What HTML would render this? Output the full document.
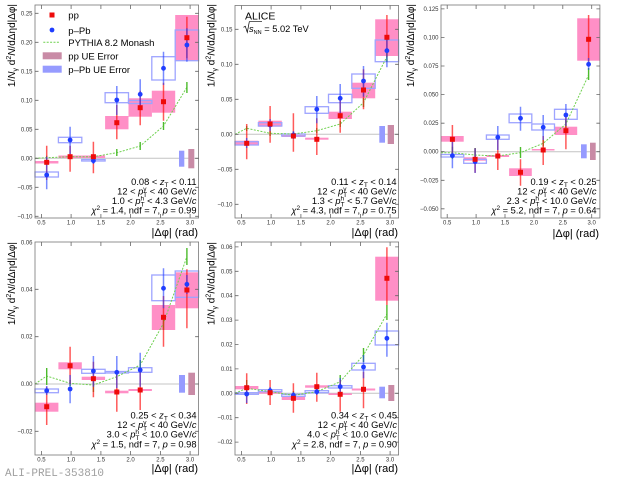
<!DOCTYPE html>
<html><head><meta charset="utf-8"><style>
html,body{margin:0;padding:0;background:#fff;}
svg{display:block;font-family:"Liberation Sans",sans-serif;}
.fr{fill:none;stroke:#777;stroke-width:0.8}
.tk{fill:none;stroke:#666;stroke-width:0.8}
.zl{stroke:#c4c4c4;stroke-width:1}
.tl{font-size:6px;fill:#333}
.tly{font-size:6px;fill:#333;text-anchor:end}
.tlx{font-size:6px;fill:#333;text-anchor:middle}
.bp{fill:#ff8fc6}
.bb{fill:none;stroke:#9ea4ff;stroke-width:1.3}
.ue1{fill:#969bff}
.ue2{fill:#c98ba6}
.py{fill:none;stroke:#6fd14f;stroke-width:1;stroke-dasharray:2 1.4}
.gb{fill:none;stroke:#4cbb2c;stroke-width:1.4}
.er{fill:none;stroke:rgba(255,20,20,0.7);stroke-width:1.5}
.eb{fill:none;stroke:rgba(30,60,255,0.6);stroke-width:1.5}
.mr{fill:#ee0a0a}
.mb{fill:#1f3dff}
.tb{font-size:9.3px;text-anchor:end;fill:#000}
.xt{font-size:11px;text-anchor:end;fill:#000}
.yt{font-size:10px;text-anchor:end;fill:#000}
.lg{font-size:9.5px;fill:#000}
</style></head><body>
<svg width="620" height="481" viewBox="0 0 620 481" xmlns="http://www.w3.org/2000/svg">
<rect width="620" height="481" fill="#fff"/>

<!-- ================= PANEL 1 ================= -->
<g>
<line class="zl" x1="35" y1="158.3" x2="198.6" y2="158.3"/>
<rect class="bp" x="35" y="161" width="23.4" height="2.5"/>
<rect class="bp" x="58.4" y="155.5" width="23.4" height="2.5"/>
<rect class="bp" x="81.7" y="155.5" width="23.4" height="2.5"/>
<rect class="bp" x="105.1" y="116" width="23.4" height="13.3"/>
<rect class="bp" x="128.5" y="98.3" width="23.4" height="18.4"/>
<rect class="bp" x="151.8" y="90.7" width="23.4" height="22"/>
<rect class="bp" x="175.2" y="15" width="23.4" height="45.7"/>
<rect class="bb" x="35" y="172" width="23.4" height="5"/>
<rect class="bb" x="58.4" y="137.3" width="23.4" height="5.4"/>
<rect class="bb" x="81.7" y="159.5" width="23.4" height="1.5"/>
<rect class="bb" x="105.1" y="92.7" width="23.4" height="10"/>
<rect class="bb" x="128.5" y="100.5" width="23.4" height="3"/>
<rect class="bb" x="151.8" y="56.7" width="23.4" height="23.3"/>
<rect class="bb" x="175.2" y="30" width="23.4" height="30.7"/>
<rect class="ue1" x="179" y="150.7" width="5.3" height="16"/>
<rect class="ue2" x="188.3" y="149" width="6" height="19.3"/>
<polyline class="py" points="35,158.3 46.7,157.7 70.1,156.7 93.4,156.7 116.8,152.7 140.2,146 163.5,126 186.9,87.3"/>
<path class="gb" d="M46.7,155.7V159.7M70.1,154.7V158.7M93.4,154.7V158.7M116.8,149V156M140.2,142V150M163.5,122V130M186.9,82V93"/>
<path class="er" d="M46.7,145.7V180M70.1,145.7V171.7M93.4,141.7V173.3M116.8,105V139.3M140.2,90.7V125.3M163.5,82.7V120.7M186.9,16.7V58.3"/>
<path class="eb" d="M46.7,156.7V189.3M70.1,126.7V154M93.4,157V164M116.8,86V115M140.2,79.3V109.3M163.5,51.7V85M186.9,28.3V61.7"/>
<circle class="mb" cx="46.7" cy="175" r="2.4"/><circle class="mb" cx="70.1" cy="140" r="2.4"/><circle class="mb" cx="93.4" cy="160.7" r="2.4"/><circle class="mb" cx="116.8" cy="100" r="2.4"/><circle class="mb" cx="140.2" cy="94.3" r="2.4"/><circle class="mb" cx="163.5" cy="68.3" r="2.4"/><circle class="mb" cx="186.9" cy="45" r="2.4"/>
<rect class="mr" x="44.2" y="159.8" width="5" height="5"/><rect class="mr" x="67.6" y="154.2" width="5" height="5"/><rect class="mr" x="90.9" y="154.2" width="5" height="5"/><rect class="mr" x="114.3" y="120.2" width="5" height="5"/><rect class="mr" x="137.7" y="105.2" width="5" height="5"/><rect class="mr" x="161" y="99.2" width="5" height="5"/><rect class="mr" x="184.4" y="35.2" width="5" height="5"/>
<rect class="fr" x="35" y="5" width="163.6" height="213"/>
<path class="tk" d="M41.4,218v-4M71.1,218v-4M100.9,218v-4M130.6,218v-4M160.4,218v-4M190.1,218v-4M41.4,5v4M71.1,5v4M100.9,5v4M130.6,5v4M160.4,5v4M190.1,5v4M35,13.3h3.5M35,42.3h3.5M35,71.3h3.5M35,100.3h3.5M35,129.3h3.5M35,158.3h3.5M35,187.3h3.5M35,216.3h3.5M198.6,13.3h-3.5M198.6,42.3h-3.5M198.6,71.3h-3.5M198.6,100.3h-3.5M198.6,129.3h-3.5M198.6,158.3h-3.5M198.6,187.3h-3.5M198.6,216.3h-3.5"/>
<text class="tly" x="32.5" y="15.3">0.25</text><text class="tly" x="32.5" y="44.3">0.20</text><text class="tly" x="32.5" y="73.3">0.15</text><text class="tly" x="32.5" y="102.3">0.10</text><text class="tly" x="32.5" y="131.3">0.05</text><text class="tly" x="32.5" y="160.3">0.00</text><text class="tly" x="32.5" y="189.3">−0.05</text><text class="tly" x="32.5" y="218.3">−0.10</text>
<text class="tlx" x="41.4" y="224.5">0.5</text><text class="tlx" x="71.1" y="224.5">1.0</text><text class="tlx" x="100.9" y="224.5">1.5</text><text class="tlx" x="130.6" y="224.5">2.0</text><text class="tlx" x="160.4" y="224.5">2.5</text><text class="tlx" x="190.1" y="224.5">3.0</text>
<text class="xt" x="198" y="236">|Δφ| (rad)</text>
<text class="yt" transform="translate(15,4) rotate(-90)">1/<tspan font-style="italic">N</tspan><tspan font-size="7" dy="2.5">γ</tspan><tspan dy="-2.5"> d</tspan><tspan font-size="7" dy="-4">2</tspan><tspan dy="4" font-style="italic">N</tspan>/dΔηd|Δφ|</text>
<text class="tb" x="196.5" y="185">0.08 &lt; <tspan font-style="italic">z</tspan><tspan font-size="6.5" dy="2">T</tspan><tspan dy="-2"> &lt; 0.11</tspan></text>
<text class="tb" x="196.5" y="194.5">12 &lt; <tspan font-style="italic">p</tspan><tspan font-size="6.5" dy="-3.5">γ</tspan><tspan font-size="6.5" dx="-3.4" dy="6">T</tspan><tspan dy="-2.5"> &lt; 40 GeV/</tspan><tspan font-style="italic">c</tspan></text>
<text class="tb" x="196.5" y="204">1.0 &lt; <tspan font-style="italic">p</tspan><tspan font-size="6.5" dy="-3.5">h</tspan><tspan font-size="6.5" dx="-3.6" dy="6">T</tspan><tspan dy="-2.5"> &lt; 4.3 GeV/</tspan><tspan font-style="italic">c</tspan></text>
<text class="tb" x="196.5" y="213.5"><tspan font-style="italic">χ</tspan><tspan font-size="6.5" dy="-3.5">2</tspan><tspan dy="3.5"> = 1.4, ndf = 7, </tspan><tspan font-style="italic">p</tspan> = 0.99</text>
<!-- legend -->
<rect class="mr" x="49.5" y="12.5" width="5" height="5"/>
<text class="lg" x="68.3" y="18.5">pp</text>
<circle class="mb" cx="52" cy="30" r="2.4"/>
<text class="lg" x="68.3" y="33.8">p–Pb</text>
<line class="py" x1="43.3" y1="42.3" x2="59" y2="42.3"/>
<text class="lg" x="68.3" y="46">PYTHIA 8.2 Monash</text>
<rect class="ue2" x="42.7" y="52.3" width="19" height="7"/>
<text class="lg" x="68.3" y="59.6">pp UE Error</text>
<rect class="ue1" x="42.7" y="65.7" width="19" height="7"/>
<text class="lg" x="68.3" y="73">p–Pb UE Error</text>
</g>

<!-- ================= PANEL 2 ================= -->
<g>
<line class="zl" x1="235" y1="134.3" x2="398.6" y2="134.3"/>
<rect class="bp" x="235" y="140.7" width="23.4" height="4.3"/>
<rect class="bp" x="258.4" y="120.7" width="23.4" height="6"/>
<rect class="bp" x="281.7" y="135" width="23.4" height="2"/>
<rect class="bp" x="305.1" y="137.7" width="23.4" height="2"/>
<rect class="bp" x="328.5" y="111.7" width="23.4" height="7.3"/>
<rect class="bp" x="351.8" y="82.7" width="23.4" height="15.6"/>
<rect class="bp" x="375.2" y="19.3" width="23.4" height="36.7"/>
<rect class="bb" x="235" y="141.7" width="23.4" height="3.3"/>
<rect class="bb" x="258.4" y="122.7" width="23.4" height="3.3"/>
<rect class="bb" x="281.7" y="134" width="23.4" height="2"/>
<rect class="bb" x="305.1" y="106.7" width="23.4" height="6.6"/>
<rect class="bb" x="328.5" y="94.3" width="23.4" height="8.4"/>
<rect class="bb" x="351.8" y="74" width="23.4" height="14.3"/>
<rect class="bb" x="375.2" y="40" width="23.4" height="21.7"/>
<rect class="ue1" x="379.3" y="126" width="5.7" height="16.7"/>
<rect class="ue2" x="387.7" y="125" width="6.3" height="19"/>
<polyline class="py" points="235,134.3 246.7,128.3 270.1,133.3 293.4,134 316.8,130.7 340.2,124 363.5,102.7 386.9,56.7"/>
<path class="gb" d="M246.7,126V131M270.1,131V136M293.4,132V136M316.8,128V133M340.2,121V127M363.5,98V107M386.9,51.7V61.7"/>
<path class="er" d="M246.7,124V159.3M270.1,106V142.7M293.4,113.3V151.7M316.8,118.3V155M340.2,96.7V132.7M363.5,69.3V109.3M386.9,15V56.7"/>
<path class="eb" d="M246.7,138V148M270.1,119V131M293.4,131V139M316.8,96V123.3M340.2,84V113.3M363.5,66V96.7M386.9,36.7V67.3"/>
<circle class="mb" cx="246.7" cy="143.3" r="2.4"/><circle class="mb" cx="270.1" cy="125" r="2.4"/><circle class="mb" cx="293.4" cy="135" r="2.4"/><circle class="mb" cx="316.8" cy="109.3" r="2.4"/><circle class="mb" cx="340.2" cy="98.3" r="2.4"/><circle class="mb" cx="363.5" cy="81" r="2.4"/><circle class="mb" cx="386.9" cy="50.7" r="2.4"/>
<rect class="mr" x="244.2" y="140.8" width="5" height="5"/><rect class="mr" x="267.6" y="121.5" width="5" height="5"/><rect class="mr" x="290.9" y="133.5" width="5" height="5"/><rect class="mr" x="314.3" y="136.8" width="5" height="5"/><rect class="mr" x="337.7" y="113.2" width="5" height="5"/><rect class="mr" x="361" y="87.5" width="5" height="5"/><rect class="mr" x="384.4" y="34.8" width="5" height="5"/>
<rect class="fr" x="235" y="5.5" width="163.6" height="212.5"/>
<path class="tk" d="M241.4,218v-4M271.1,218v-4M300.9,218v-4M330.6,218v-4M360.4,218v-4M390.1,218v-4M241.4,5.5v4M271.1,5.5v4M300.9,5.5v4M330.6,5.5v4M360.4,5.5v4M390.1,5.5v4M235,29.3h3.5M235,64.3h3.5M235,99.3h3.5M235,134.3h3.5M235,169.3h3.5M235,204.3h3.5M398.6,29.3h-3.5M398.6,64.3h-3.5M398.6,99.3h-3.5M398.6,134.3h-3.5M398.6,169.3h-3.5M398.6,204.3h-3.5"/>
<text class="tly" x="232.5" y="31.3">0.15</text><text class="tly" x="232.5" y="66.3">0.10</text><text class="tly" x="232.5" y="101.3">0.05</text><text class="tly" x="232.5" y="136.3">0.00</text><text class="tly" x="232.5" y="171.3">−0.05</text><text class="tly" x="232.5" y="206.3">−0.10</text>
<text class="tlx" x="241.4" y="224.5">0.5</text><text class="tlx" x="271.1" y="224.5">1.0</text><text class="tlx" x="300.9" y="224.5">1.5</text><text class="tlx" x="330.6" y="224.5">2.0</text><text class="tlx" x="360.4" y="224.5">2.5</text><text class="tlx" x="390.1" y="224.5">3.0</text>
<text class="xt" x="398" y="236">|Δφ| (rad)</text>
<text class="yt" transform="translate(214.5,4) rotate(-90)">1/<tspan font-style="italic">N</tspan><tspan font-size="7" dy="2.5">γ</tspan><tspan dy="-2.5"> d</tspan><tspan font-size="7" dy="-4">2</tspan><tspan dy="4" font-style="italic">N</tspan>/dΔηd|Δφ|</text>
<text x="245" y="19.7" font-size="10.5">ALICE</text>
<path d="M243.5,27.3L245.3,26.3L247.3,32.3L249.3,21.7L262,21.7" fill="none" stroke="#000" stroke-width="0.7"/>
<text x="249" y="32" font-size="9.3"><tspan font-style="italic">s</tspan><tspan font-size="5.5" dy="1.8">NN</tspan><tspan dy="-1.8"> = 5.02 TeV</tspan></text>
<text class="tb" x="396.5" y="185">0.11 &lt; <tspan font-style="italic">z</tspan><tspan font-size="6.5" dy="2">T</tspan><tspan dy="-2"> &lt; 0.14</tspan></text>
<text class="tb" x="396.5" y="194.5">12 &lt; <tspan font-style="italic">p</tspan><tspan font-size="6.5" dy="-3.5">γ</tspan><tspan font-size="6.5" dx="-3.4" dy="6">T</tspan><tspan dy="-2.5"> &lt; 40 GeV/</tspan><tspan font-style="italic">c</tspan></text>
<text class="tb" x="396.5" y="204">1.3 &lt; <tspan font-style="italic">p</tspan><tspan font-size="6.5" dy="-3.5">h</tspan><tspan font-size="6.5" dx="-3.6" dy="6">T</tspan><tspan dy="-2.5"> &lt; 5.7 GeV/</tspan><tspan font-style="italic">c</tspan></text>
<text class="tb" x="396.5" y="213.5"><tspan font-style="italic">χ</tspan><tspan font-size="6.5" dy="-3.5">2</tspan><tspan dy="3.5"> = 4.3, ndf = 7, </tspan><tspan font-style="italic">p</tspan> = 0.75</text>
</g>

<!-- ================= PANEL 3 ================= -->
<g>
<line class="zl" x1="441" y1="151.7" x2="599.9" y2="151.7"/>
<rect class="bp" x="441" y="136" width="22.7" height="5.7"/>
<rect class="bp" x="463.7" y="157.3" width="22.7" height="3.4"/>
<rect class="bp" x="486.4" y="155" width="22.7" height="2"/>
<rect class="bp" x="509.1" y="168.3" width="22.7" height="7.7"/>
<rect class="bp" x="531.8" y="149" width="22.7" height="1.5"/>
<rect class="bp" x="554.5" y="126.7" width="22.7" height="8.3"/>
<rect class="bp" x="577.2" y="18.3" width="22.7" height="42.4"/>
<rect class="bb" x="441" y="154.5" width="22.7" height="2.5"/>
<rect class="bb" x="463.7" y="159.3" width="22.7" height="4"/>
<rect class="bb" x="486.4" y="135" width="22.7" height="4.3"/>
<rect class="bb" x="509.1" y="114" width="22.7" height="8.7"/>
<rect class="bb" x="531.8" y="124" width="22.7" height="6"/>
<rect class="bb" x="554.5" y="109.3" width="22.7" height="10"/>
<rect class="ue1" x="581" y="144.3" width="5.7" height="14"/>
<rect class="ue2" x="590" y="142.7" width="5.7" height="17.3"/>
<polyline class="py" points="441,152.7 452.4,152.7 475.1,155 497.8,156 520.5,152.7 543.2,143.3 565.9,124 588.6,75"/>
<path class="gb" d="M452.4,146.7V158.7M475.1,148V162M497.8,154V158M520.5,147V158M543.2,140V146.5M565.9,120V128M588.6,68V80"/>
<path class="er" d="M452.4,125V156M475.1,148.3V172.7M497.8,138.3V170M520.5,159.3V185.7M543.2,136V165M565.9,115V149.3M588.6,15V61.7"/>
<path class="eb" d="M452.4,141.7V168.3M475.1,148.3V173M497.8,126V150M520.5,106.7V130.7M543.2,115V140M565.9,104V126M588.6,58V70"/>
<circle class="mb" cx="452.4" cy="155.7" r="2.4"/><circle class="mb" cx="475.1" cy="161.7" r="2.4"/><circle class="mb" cx="497.8" cy="137.3" r="2.4"/><circle class="mb" cx="520.5" cy="118.3" r="2.4"/><circle class="mb" cx="543.2" cy="127.3" r="2.4"/><circle class="mb" cx="565.9" cy="115" r="2.4"/><circle class="mb" cx="588.6" cy="64.3" r="2.4"/>
<rect class="mr" x="449.9" y="136.8" width="5" height="5"/><rect class="mr" x="472.6" y="156.8" width="5" height="5"/><rect class="mr" x="495.3" y="153.5" width="5" height="5"/><rect class="mr" x="518" y="169.8" width="5" height="5"/><rect class="mr" x="540.7" y="147.5" width="5" height="5"/><rect class="mr" x="563.4" y="128.2" width="5" height="5"/><rect class="mr" x="586.1" y="36.8" width="5" height="5"/>
<rect class="fr" x="441" y="5" width="158.9" height="213"/>
<path class="tk" d="M447.2,218v-4M476.1,218v-4M505,218v-4M533.9,218v-4M562.8,218v-4M591.7,218v-4M447.2,5v4M476.1,5v4M505,5v4M533.9,5v4M562.8,5v4M591.7,5v4M441,8.9h3.5M441,37.5h3.5M441,66h3.5M441,94.6h3.5M441,123.2h3.5M441,151.7h3.5M441,180.3h3.5M441,208.8h3.5M599.9,8.9h-3.5M599.9,37.5h-3.5M599.9,66h-3.5M599.9,94.6h-3.5M599.9,123.2h-3.5M599.9,151.7h-3.5M599.9,180.3h-3.5M599.9,208.8h-3.5"/>
<text class="tly" x="438.5" y="10.9">0.125</text><text class="tly" x="438.5" y="39.5">0.100</text><text class="tly" x="438.5" y="68">0.075</text><text class="tly" x="438.5" y="96.6">0.050</text><text class="tly" x="438.5" y="125.2">0.025</text><text class="tly" x="438.5" y="153.7">0.000</text><text class="tly" x="438.5" y="182.3">−0.025</text><text class="tly" x="438.5" y="210.8">−0.050</text>
<text class="tlx" x="447.2" y="224.5">0.5</text><text class="tlx" x="476.1" y="224.5">1.0</text><text class="tlx" x="505" y="224.5">1.5</text><text class="tlx" x="533.9" y="224.5">2.0</text><text class="tlx" x="562.8" y="224.5">2.5</text><text class="tlx" x="591.7" y="224.5">3.0</text>
<text class="xt" x="599" y="237">|Δφ| (rad)</text>
<text class="yt" transform="translate(414,4) rotate(-90)">1/<tspan font-style="italic">N</tspan><tspan font-size="7" dy="2.5">γ</tspan><tspan dy="-2.5"> d</tspan><tspan font-size="7" dy="-4">2</tspan><tspan dy="4" font-style="italic">N</tspan>/dΔηd|Δφ|</text>
<text class="tb" x="596.5" y="185">0.19 &lt; <tspan font-style="italic">z</tspan><tspan font-size="6.5" dy="2">T</tspan><tspan dy="-2"> &lt; 0.25</tspan></text>
<text class="tb" x="596.5" y="194.5">12 &lt; <tspan font-style="italic">p</tspan><tspan font-size="6.5" dy="-3.5">γ</tspan><tspan font-size="6.5" dx="-3.4" dy="6">T</tspan><tspan dy="-2.5"> &lt; 40 GeV/</tspan><tspan font-style="italic">c</tspan></text>
<text class="tb" x="596.5" y="204">2.3 &lt; <tspan font-style="italic">p</tspan><tspan font-size="6.5" dy="-3.5">h</tspan><tspan font-size="6.5" dx="-3.6" dy="6">T</tspan><tspan dy="-2.5"> &lt; 10.0 GeV/</tspan><tspan font-style="italic">c</tspan></text>
<text class="tb" x="596.5" y="213.5"><tspan font-style="italic">χ</tspan><tspan font-size="6.5" dy="-3.5">2</tspan><tspan dy="3.5"> = 5.2, ndf = 7, </tspan><tspan font-style="italic">p</tspan> = 0.64</text>
</g>

<!-- ================= PANEL 4 ================= -->
<g>
<line class="zl" x1="35" y1="384" x2="198.6" y2="384"/>
<rect class="bp" x="35" y="402.7" width="23.4" height="9"/>
<rect class="bp" x="58.4" y="362.3" width="23.4" height="7"/>
<rect class="bp" x="81.7" y="376.7" width="23.4" height="3.3"/>
<rect class="bp" x="105.1" y="390.7" width="23.4" height="2.6"/>
<rect class="bp" x="128.5" y="389" width="23.4" height="2"/>
<rect class="bp" x="151.8" y="305" width="23.4" height="25"/>
<rect class="bp" x="175.2" y="272.3" width="23.4" height="36"/>
<rect class="bb" x="35" y="389" width="23.4" height="3.7"/>
<rect class="bb" x="81.7" y="369.3" width="23.4" height="4"/>
<rect class="bb" x="105.1" y="371.5" width="23.4" height="1.5"/>
<rect class="bb" x="128.5" y="367.7" width="23.4" height="4.6"/>
<rect class="bb" x="151.8" y="275" width="23.4" height="25.7"/>
<rect class="bb" x="175.2" y="271" width="23.4" height="26.3"/>
<rect class="ue1" x="179" y="375" width="6" height="17.7"/>
<rect class="ue2" x="188.3" y="372.7" width="6.7" height="22.3"/>
<polyline class="py" points="35,384 46.7,376 70.1,383.3 93.4,385 116.8,376.7 140.2,365 163.5,323.3 186.9,256.7"/>
<path class="gb" d="M46.7,368V385M70.1,380V386M93.4,377V392M116.8,373V380M140.2,360V370M163.5,318V330M186.9,248V265"/>
<path class="er" d="M46.7,386.7V425M70.1,346.7V384M93.4,361.7V397.3M116.8,375V411.7M140.2,371.7V410M163.5,296V346.7M186.9,269.3V328.3"/>
<path class="eb" d="M46.7,386V395M70.1,375V403.3M93.4,356V386.7M116.8,356V388M140.2,352.7V386.7M163.5,268.3V308.3M186.9,275V294"/>
<circle class="mb" cx="46.7" cy="390.7" r="2.4"/><circle class="mb" cx="70.1" cy="389" r="2.4"/><circle class="mb" cx="93.4" cy="371" r="2.4"/><circle class="mb" cx="116.8" cy="372.3" r="2.4"/><circle class="mb" cx="140.2" cy="370" r="2.4"/><circle class="mb" cx="163.5" cy="288.3" r="2.4"/><circle class="mb" cx="186.9" cy="284.3" r="2.4"/>
<rect class="mr" x="44.2" y="404.2" width="5" height="5"/><rect class="mr" x="67.6" y="363.2" width="5" height="5"/><rect class="mr" x="90.9" y="376.2" width="5" height="5"/><rect class="mr" x="114.3" y="389.5" width="5" height="5"/><rect class="mr" x="137.7" y="387.5" width="5" height="5"/><rect class="mr" x="161" y="314.8" width="5" height="5"/><rect class="mr" x="184.4" y="287.5" width="5" height="5"/>
<rect class="fr" x="35" y="242" width="163.6" height="213"/>
<path class="tk" d="M41.4,455v-4M71.1,455v-4M100.9,455v-4M130.6,455v-4M160.4,455v-4M190.1,455v-4M41.4,242v4M71.1,242v4M100.9,242v4M130.6,242v4M160.4,242v4M190.1,242v4M35,289.3h3.5M35,336.7h3.5M35,384h3.5M35,431.3h3.5M198.6,289.3h-3.5M198.6,336.7h-3.5M198.6,384h-3.5M198.6,431.3h-3.5"/>
<text class="tly" x="32.5" y="244.5">0.06</text><text class="tly" x="32.5" y="291.3">0.04</text><text class="tly" x="32.5" y="338.7">0.02</text><text class="tly" x="32.5" y="386">0.00</text><text class="tly" x="32.5" y="433.3">−0.02</text>
<text class="tlx" x="41.4" y="461.5">0.5</text><text class="tlx" x="71.1" y="461.5">1.0</text><text class="tlx" x="100.9" y="461.5">1.5</text><text class="tlx" x="130.6" y="461.5">2.0</text><text class="tlx" x="160.4" y="461.5">2.5</text><text class="tlx" x="190.1" y="461.5">3.0</text>
<text class="xt" x="198" y="472">|Δφ| (rad)</text>
<text class="yt" transform="translate(15,242) rotate(-90)">1/<tspan font-style="italic">N</tspan><tspan font-size="7" dy="2.5">γ</tspan><tspan dy="-2.5"> d</tspan><tspan font-size="7" dy="-4">2</tspan><tspan dy="4" font-style="italic">N</tspan>/dΔηd|Δφ|</text>
<text class="tb" x="196.5" y="418.5">0.25 &lt; <tspan font-style="italic">z</tspan><tspan font-size="6.5" dy="2">T</tspan><tspan dy="-2"> &lt; 0.34</tspan></text>
<text class="tb" x="196.5" y="428">12 &lt; <tspan font-style="italic">p</tspan><tspan font-size="6.5" dy="-3.5">γ</tspan><tspan font-size="6.5" dx="-3.4" dy="6">T</tspan><tspan dy="-2.5"> &lt; 40 GeV/</tspan><tspan font-style="italic">c</tspan></text>
<text class="tb" x="196.5" y="437.7">3.0 &lt; <tspan font-style="italic">p</tspan><tspan font-size="6.5" dy="-3.5">h</tspan><tspan font-size="6.5" dx="-3.6" dy="6">T</tspan><tspan dy="-2.5"> &lt; 10.0 GeV/</tspan><tspan font-style="italic">c</tspan></text>
<text class="tb" x="196.5" y="447.3"><tspan font-style="italic">χ</tspan><tspan font-size="6.5" dy="-3.5">2</tspan><tspan dy="3.5"> = 1.5, ndf = 7, </tspan><tspan font-style="italic">p</tspan> = 0.98</text>
<text x="5" y="476" font-family="'Liberation Mono',monospace" font-size="11" fill="#a0a0a0">ALI-PREL-353810</text>
</g>

<!-- ================= PANEL 5 ================= -->
<g>
<line class="zl" x1="235" y1="393.3" x2="398.6" y2="393.3"/>
<rect class="bp" x="235" y="386" width="23.4" height="3.3"/>
<rect class="bp" x="258.4" y="391.7" width="23.4" height="2"/>
<rect class="bp" x="281.7" y="396.7" width="23.4" height="3.3"/>
<rect class="bp" x="305.1" y="385.3" width="23.4" height="2.4"/>
<rect class="bp" x="328.5" y="393.3" width="23.4" height="1.7"/>
<rect class="bp" x="351.8" y="388.5" width="23.4" height="2"/>
<rect class="bp" x="375.2" y="256.7" width="23.4" height="44"/>
<rect class="bb" x="235" y="392.7" width="23.4" height="1.6"/>
<rect class="bb" x="258.4" y="389.7" width="23.4" height="2"/>
<rect class="bb" x="281.7" y="394.3" width="23.4" height="2"/>
<rect class="bb" x="305.1" y="390.7" width="23.4" height="2"/>
<rect class="bb" x="328.5" y="385.7" width="23.4" height="2.3"/>
<rect class="bb" x="351.8" y="363.3" width="23.4" height="6.7"/>
<rect class="bb" x="375.2" y="331" width="23.4" height="14"/>
<rect class="ue1" x="379.3" y="386.7" width="5.7" height="11.6"/>
<rect class="ue2" x="388.3" y="385" width="6" height="16"/>
<polyline class="py" points="235,393.3 246.7,388.3 270.1,391.7 293.4,395.3 316.8,391.7 340.2,381.7 363.5,355 386.9,314"/>
<path class="gb" d="M246.7,380V396.7M270.1,389V394M293.4,391V400M316.8,389V394M340.2,375V388M363.5,348V362M386.9,305V320"/>
<path class="er" d="M246.7,373.3V404M270.1,380V405M293.4,383.3V412.7M316.8,372.7V401.7M340.2,380V411.7M363.5,371.7V408.3M386.9,247.3V305"/>
<path class="eb" d="M246.7,385V403M270.1,387V394M293.4,392V398M316.8,388V395M340.2,378V395M363.5,355V378.3M386.9,322.7V356.7"/>
<circle class="mb" cx="246.7" cy="394" r="2.4"/><circle class="mb" cx="270.1" cy="390.7" r="2.4"/><circle class="mb" cx="293.4" cy="395.3" r="2.4"/><circle class="mb" cx="316.8" cy="391.7" r="2.4"/><circle class="mb" cx="340.2" cy="386.7" r="2.4"/><circle class="mb" cx="363.5" cy="367" r="2.4"/><circle class="mb" cx="386.9" cy="338.3" r="2.4"/>
<rect class="mr" x="244.2" y="385.2" width="5" height="5"/><rect class="mr" x="267.6" y="390.2" width="5" height="5"/><rect class="mr" x="290.9" y="395.8" width="5" height="5"/><rect class="mr" x="314.3" y="384.2" width="5" height="5"/><rect class="mr" x="337.7" y="391.8" width="5" height="5"/><rect class="mr" x="361" y="386.8" width="5" height="5"/><rect class="mr" x="384.4" y="275.8" width="5" height="5"/>
<rect class="fr" x="235" y="242" width="163.6" height="213"/>
<path class="tk" d="M241.4,455v-4M271.1,455v-4M300.9,455v-4M330.6,455v-4M360.4,455v-4M390.1,455v-4M241.4,242v4M271.1,242v4M300.9,242v4M330.6,242v4M360.4,242v4M390.1,242v4M235,246.9h3.5M235,271.3h3.5M235,295.7h3.5M235,320.1h3.5M235,344.5h3.5M235,368.9h3.5M235,393.3h3.5M235,417.7h3.5M235,442.1h3.5M398.6,246.9h-3.5M398.6,271.3h-3.5M398.6,295.7h-3.5M398.6,320.1h-3.5M398.6,344.5h-3.5M398.6,368.9h-3.5M398.6,393.3h-3.5M398.6,417.7h-3.5M398.6,442.1h-3.5"/>
<text class="tly" x="232.5" y="248.9">0.06</text><text class="tly" x="232.5" y="273.3">0.05</text><text class="tly" x="232.5" y="297.7">0.04</text><text class="tly" x="232.5" y="322.1">0.03</text><text class="tly" x="232.5" y="346.5">0.02</text><text class="tly" x="232.5" y="370.9">0.01</text><text class="tly" x="232.5" y="395.3">0.00</text><text class="tly" x="232.5" y="419.7">−0.01</text><text class="tly" x="232.5" y="444.1">−0.02</text>
<text class="tlx" x="241.4" y="461.5">0.5</text><text class="tlx" x="271.1" y="461.5">1.0</text><text class="tlx" x="300.9" y="461.5">1.5</text><text class="tlx" x="330.6" y="461.5">2.0</text><text class="tlx" x="360.4" y="461.5">2.5</text><text class="tlx" x="390.1" y="461.5">3.0</text>
<text class="xt" x="398" y="472">|Δφ| (rad)</text>
<text class="yt" transform="translate(214.5,242) rotate(-90)">1/<tspan font-style="italic">N</tspan><tspan font-size="7" dy="2.5">γ</tspan><tspan dy="-2.5"> d</tspan><tspan font-size="7" dy="-4">2</tspan><tspan dy="4" font-style="italic">N</tspan>/dΔηd|Δφ|</text>
<text class="tb" x="397" y="418.5">0.34 &lt; <tspan font-style="italic">z</tspan><tspan font-size="6.5" dy="2">T</tspan><tspan dy="-2"> &lt; 0.45</tspan></text>
<text class="tb" x="397" y="428">12 &lt; <tspan font-style="italic">p</tspan><tspan font-size="6.5" dy="-3.5">γ</tspan><tspan font-size="6.5" dx="-3.4" dy="6">T</tspan><tspan dy="-2.5"> &lt; 40 GeV/</tspan><tspan font-style="italic">c</tspan></text>
<text class="tb" x="397" y="437.7">4.0 &lt; <tspan font-style="italic">p</tspan><tspan font-size="6.5" dy="-3.5">h</tspan><tspan font-size="6.5" dx="-3.6" dy="6">T</tspan><tspan dy="-2.5"> &lt; 10.0 GeV/</tspan><tspan font-style="italic">c</tspan></text>
<text class="tb" x="397" y="447.3"><tspan font-style="italic">χ</tspan><tspan font-size="6.5" dy="-3.5">2</tspan><tspan dy="3.5"> = 2.8, ndf = 7, </tspan><tspan font-style="italic">p</tspan> = 0.90</text>
</g>
</svg>
</body></html>
